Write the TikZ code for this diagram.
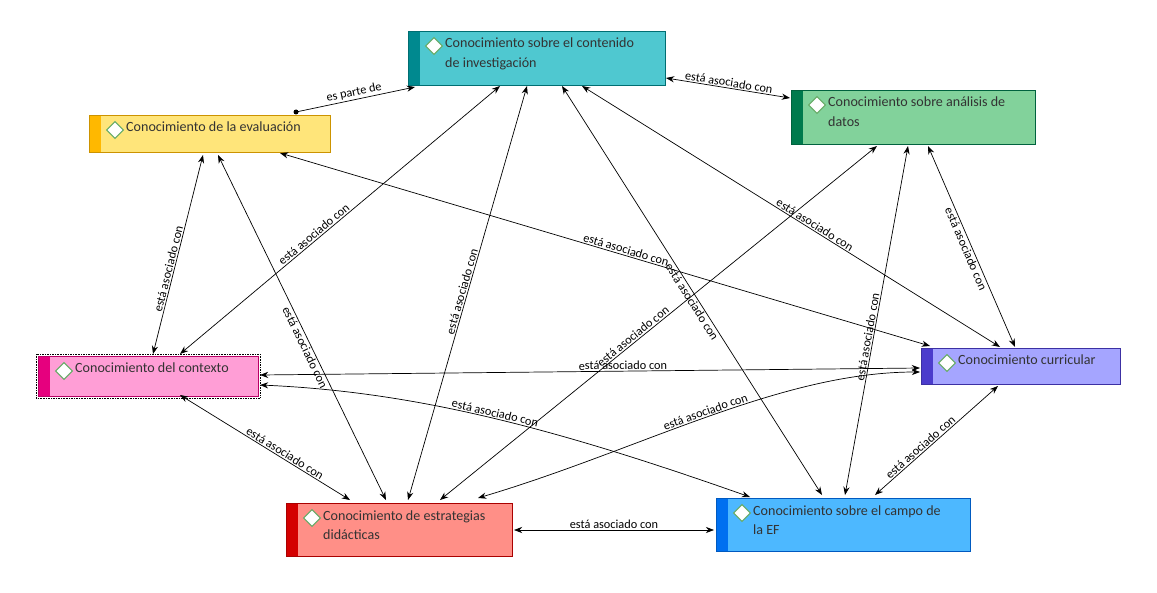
\documentclass[tikz,border=0pt]{standalone}
\usepackage{fontspec}
\setmainfont{Carlito}
\usetikzlibrary{arrows.meta,positioning}
\definecolor{tealf}{HTML}{4FC8D0}\definecolor{tealb}{HTML}{00898F}
\definecolor{greenf}{HTML}{82D29B}\definecolor{greenb}{HTML}{007A4D}
\definecolor{yellf}{HTML}{FFE57A}\definecolor{yellb}{HTML}{FFB800}
\definecolor{pinkf}{HTML}{FF9ED6}\definecolor{pinkb}{HTML}{E6007E}
\definecolor{lavf}{HTML}{A5A5FF}\definecolor{lavb}{HTML}{4B3CCC}
\definecolor{redf}{HTML}{FF8F87}\definecolor{redb}{HTML}{D40000}
\definecolor{bluef}{HTML}{4DB8FF}\definecolor{blueb}{HTML}{0070F0}
\tikzset{
  rel/.style={draw, {Stealth[length=7pt]}-{Stealth[length=7pt]}, line width=0.6pt},
  lbl/.style={font=\fontsize{10.5}{12}\selectfont, sloped, above, inner sep=1pt},
  tag/.style={draw=green!45!black!60, fill=white, line width=0.9pt, rotate=45, minimum size=10pt, inner sep=0pt},
}
% box: name, x1, y1, x2, y2, fill, bar, text
\newcommand{\conbox}[8]{%
  \fill[#6] (#2,#3) rectangle (#4,#5);
  \fill[#7] (#2,#3) rectangle (#2+12,#5);
  \draw[#7!80!black] (#2,#3) rectangle (#4,#5);
  \coordinate (#1) at ({(#2+#4)/2},{(#3+#5)/2});
  \node[tag] at (#2+26,#3+15) {};
  \node[anchor=north west, align=left, font=\fontsize{12}{16.5}\selectfont, text=black!80, inner sep=0pt] at (#2+37,#3+7) {#8};
}
\begin{document}
\begin{tikzpicture}[x=0.03cm, y=-0.03cm]
\useasboundingbox (0,0) rectangle (1157,593);
\draw[densely dotted] (36,354) rectangle (260,398);
\conbox{inv}{408}{31}{665}{85}{tealf}{tealb}{Conocimiento sobre el contenido\\de investigación}
\conbox{ana}{791}{90}{1035}{144}{greenf}{greenb}{Conocimiento sobre análisis de\\datos}
\conbox{eva}{89}{115}{330}{152}{yellf}{yellb}{Conocimiento de la evaluación}
\conbox{ctx}{38}{356}{258}{396}{pinkf}{pinkb}{Conocimiento del contexto}
\conbox{cur}{921}{348}{1120}{384}{lavf}{lavb}{Conocimiento curricular}
\conbox{est}{286}{503}{512}{556}{redf}{redb}{Conocimiento de estrategias\\didácticas}
\conbox{ef}{716}{498}{970}{551}{bluef}{blueb}{Conocimiento sobre el campo de\\la EF}
% relations
\fill (296,112) circle (2.5);
\draw[-{Stealth[length=7pt]}, line width=0.6pt] (296,112) -- node[lbl] {es parte de} (415,87);
\draw[rel] (666,78) -- node[lbl] {está asociado con} (790,98);
\draw[rel] (203,155) -- node[lbl, pos=.58] {está asociado con} (153,354);
\draw[rel] (218,155) -- node[lbl, pos=.55, below] {está asociado con} (386,500);
\draw[rel] (280,153) -- node[lbl, pos=.53] {está asociado con} (930,346);
\draw[rel] (500,86) -- node[lbl, pos=.57] {está asociado con} (180,354);
\draw[rel] (527,86) -- node[lbl, pos=.5] {está asociado con} (408,500);
\draw[rel] (562,86) -- node[lbl, pos=.52, below] {está asociado con} (822,495);
\draw[rel] (582,86) -- node[lbl, pos=.55] {está asociado con} (1000,347);
\draw[rel] (877,146) -- node[lbl, pos=.55] {está asociado con} (440,500);
\draw[rel] (908,146) -- node[lbl, pos=.55] {está asociado con} (845,495);
\draw[rel] (928,146) -- node[lbl, pos=.5, below] {está asociado con} (1015,347);
\draw[rel] (260,375) -- node[lbl, pos=.55] {está asociado con} (920,368);
\draw[rel] (180,395) -- node[lbl, pos=.6] {está asociado con} (350,500);
\draw[rel] (260,385) .. controls (420,392) and (560,430) .. node[lbl, pos=.5] {está asociado con} (750,497);
\draw[rel] (478,498) .. controls (640,450) and (780,372) .. node[lbl, pos=.5] {está asociado con} (920,372);
\draw[rel] (514,530) -- node[lbl] {está asociado con} (714,530);
\draw[rel] (875,495) -- node[lbl, pos=.4] {está asociado con} (998,386);
\end{tikzpicture}
\end{document}
